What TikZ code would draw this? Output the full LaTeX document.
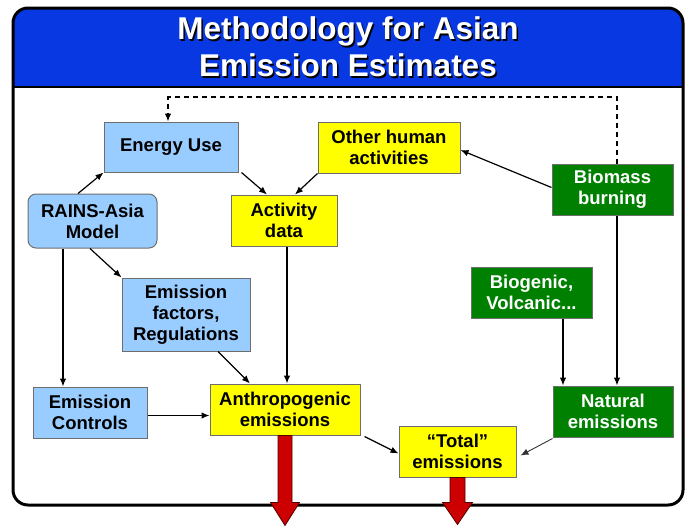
\documentclass[tikz,border=0pt]{standalone}
\usepackage{fontspec}
\setmainfont{Liberation Sans}
\usetikzlibrary{arrows.meta,calc}
\definecolor{hblue}{RGB}{8,56,225}
\definecolor{lblue}{RGB}{153,204,255}
\definecolor{ylw}{RGB}{255,255,0}
\definecolor{grn}{RGB}{0,128,0}
\definecolor{bord}{RGB}{110,110,110}
\definecolor{redarr}{RGB}{204,0,0}
\begin{document}
\begin{tikzpicture}[x=1pt,y=-1pt,
  box/.style={draw=bord,line width=1pt,inner sep=0pt,align=center,
    font=\fontsize{18.5}{21}\selectfont\bfseries},
  bluebox/.style={box,fill=lblue},
  ylwbox/.style={box,fill=ylw},
  grnbox/.style={box,fill=grn,text=white},
  arr/.style={line width=1.2pt,-{Latex[length=8pt,width=6.5pt]}},
  bigarrow/.style={fill=redarr,draw=black!60!redarr,line width=0.8pt}]
\useasboundingbox (0,0) rectangle (685,525);
% header
\begin{scope}
\clip[rounded corners=15pt] (13,8) rectangle (683,505);
\fill[hblue] (13,8) rectangle (683,87);
\end{scope}
\draw[line width=2.5pt] (13,87) -- (683,87);
\node[font=\fontsize{31.5}{37}\selectfont\bfseries,text=black,align=center] at (349.5,48.5) {Methodology for Asian\\Emission Estimates};
\node[font=\fontsize{31.5}{37}\selectfont\bfseries,text=white,align=center] (title) at (348,47) {Methodology for Asian\\Emission Estimates};
% nodes
\node[bluebox,minimum width=134pt,minimum height=50pt] (energy) at (171,147) {Energy Use};
\node[bluebox,rounded corners=8pt,minimum width=129pt,minimum height=54pt] (rains) at (92.5,221) {RAINS-Asia\\Model};
\node[ylwbox,minimum width=106pt,minimum height=51pt] (activity) at (284,220.5) {Activity\\data};
\node[ylwbox,minimum width=142pt,minimum height=51pt] (other) at (389,147.5) {Other human\\activities};
\node[grnbox,minimum width=121pt,minimum height=51pt] (biomass) at (612.5,189.5) {Biomass\\burning};
\node[grnbox,minimum width=121pt,minimum height=51pt] (biogenic) at (531.5,292.5) {Biogenic,\\Volcanic...};
\node[bluebox,minimum width=128pt,minimum height=73pt] (factors) at (186,314.5) {Emission\\factors,\\Regulations};
\node[bluebox,minimum width=114pt,minimum height=51pt] (controls) at (90,412.5) {Emission\\Controls};
\node[ylwbox,minimum width=150pt,minimum height=51pt] (anthro) at (285,409.5) {Anthropogenic\\emissions};
\node[grnbox,minimum width=120pt,minimum height=51pt] (natural) at (613,411.5) {Natural\\emissions};
\node[ylwbox,minimum width=117pt,minimum height=51pt] (total) at (457.5,451.5) {“Total”\\emissions};
% connectors
\coordinate (dtop) at (0,97);
\draw[line width=1.2pt,dashed,dash pattern=on 5pt off 4pt,-{Latex[length=8pt,width=6.5pt]}]
  ([xshift=4.5pt]biomass.north) |- ([xshift=-3pt]energy.north |- dtop) -- ([xshift=-3pt]energy.north);
\draw[arr] ([xshift=-14.5pt]rains.north) -- (energy.south west);
\draw[arr] ([xshift=3pt]energy.south east) -- ([xshift=-17pt]activity.north);
\draw[arr] (other.south west) -- ([xshift=11pt]activity.north);
\draw[arr] ([yshift=2pt]biomass.west) -- ([yshift=-2.5pt]other.east);
\draw[arr] ([xshift=-2.5pt]rains.south) -- (factors.north west);
\draw[arr] ([xshift=-29.5pt]rains.south) -- ([xshift=-29.5pt]rains.south |- controls.north);
\draw[arr] ([xshift=3pt]activity.south) -- ([xshift=3pt]activity.south |- anthro.north);
\draw[arr] ([xshift=32pt]factors.south) -- ([xshift=-35pt]anthro.north);
\draw[arr] ([yshift=-3pt]controls.east) -- ([yshift=-3pt]controls.east -| anthro.west);
\draw[arr] ([xshift=4pt,yshift=-1pt]anthro.south east) -- ([yshift=-2pt]total.west);
\draw[arr] ([xshift=31.5pt]biogenic.south) -- ([xshift=31.5pt]biogenic.south |- natural.north);
\draw[arr] ([xshift=4.5pt]biomass.south) -- ([xshift=4.5pt]biomass.south |- natural.north);
\draw[line width=0.9pt,draw=black!80,-{Latex[length=8pt,width=6.5pt]}] ([yshift=-1pt]natural.south west) -- ([xshift=4pt,yshift=-4pt]total.east);
% frame
\draw[line width=3pt,rounded corners=15pt] (13,8) rectangle (683,505);
% red arrows
\draw[bigarrow] ([xshift=-7pt]anthro.south) -- ++(0,67) -- ++(-7.5,0) -- ++(14.5,23) -- ++(14.5,-23) -- ++(-7.5,0) -- ++(0,-67) -- cycle;
\draw[bigarrow] ([xshift=-7.5pt]total.south) -- ++(0,25) -- ++(-7.5,0) -- ++(15,22) -- ++(15,-22) -- ++(-7.5,0) -- ++(0,-25) -- cycle;
\end{tikzpicture}
\end{document}
